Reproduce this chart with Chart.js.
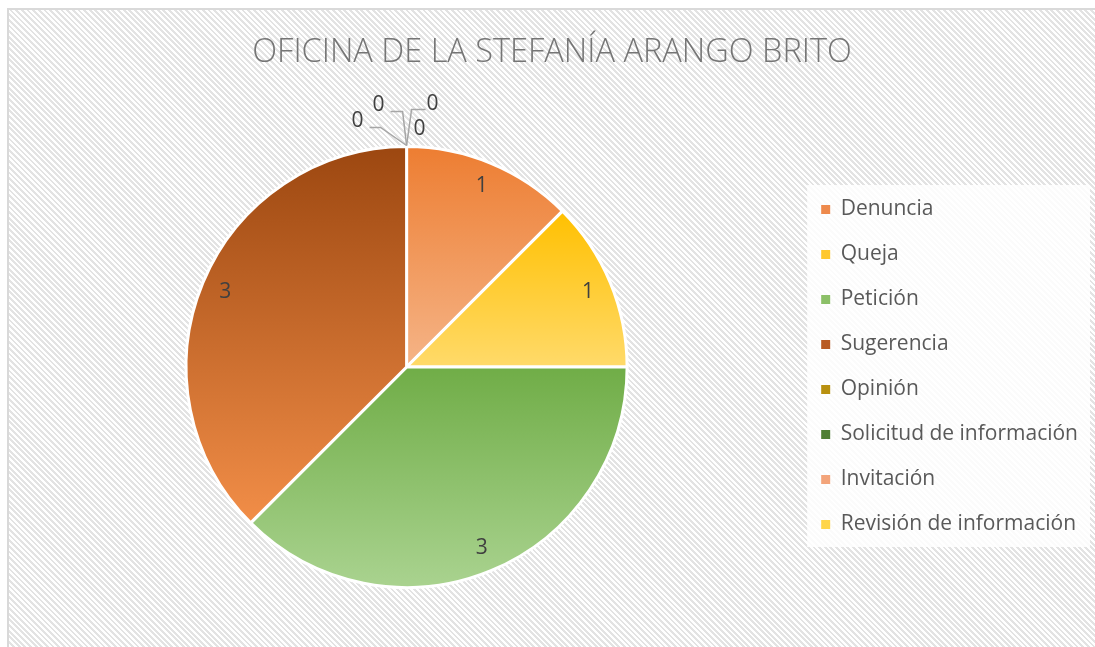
<!DOCTYPE html>
<html>
<head>
<meta charset="utf-8">
<script src="https://cdn.jsdelivr.net/npm/chart.js@4.4.0/dist/chart.umd.min.js"></script>
<style>
  html, body { margin: 0; padding: 0; background: #fff; overflow: hidden; width: 1095px; height: 647px; }
  #box {
    position: absolute; left: 7px; top: 8px; width: 1130px; height: 690px;
    border-left: 2px solid #d9d9d9; border-top: 2px solid #d9d9d9;
    background: repeating-linear-gradient(45deg, #e3e3e3 0px, #e3e3e3 2px, #ffffff 2px, #ffffff 4px);
  }
  canvas { position: absolute; left: 0; top: 0; }
</style>
</head>
<body>
<div id="box"><canvas id="PieChart" width="1094" height="637"></canvas></div>
<script>
const chartTitle = "OFICINA DE LA STEFANÍA ARANGO BRITO";
const categories = ["Denuncia", "Queja", "Petición", "Sugerencia", "Opinión",
  "Solicitud de información", "Invitación", "Revisión de información"];
const values = [1, 1, 3, 3, 0, 0, 0, 0];

// slice gradient, top -> bottom
const topColors = ["#ED7D31", "#FFC000", "#70AD47", "#9C4710", "#BF9000", "#548235", "#F4A06E", "#FFD24D"];
const bottomColors = ["#F5B487", "#FFDA6A", "#AAD390", "#F28E48", "#D9AA1E", "#6A9A48", "#F6BC98", "#FFE08A"];
const legendColors = ["#EE8A4C", "#FFC82E", "#8CC068", "#B85A22", "#B8900F", "#4F7F34", "#F3A47A", "#FFD54A"];

// where the zero labels sit around the top of the pie (offsets from the rim point)
const zeroLabels = {
  4: { dx: -49, dy: -24, line: [[-26, -18], [-37, -18]] },
  5: { dx: -28, dy: -40, line: [[-4, -34], [-16, -34]] },
  6: { dx: 26, dy: -41, line: [[5, -36], [19, -36]] },
  7: { dx: 13, dy: -16, line: null }
};

const total = values.reduce((a, b) => a + b, 0);

function sliceFill(context) {
  const i = context.dataIndex;
  const chart = context.chart;
  const area = chart.chartArea;
  if (!area || values[i] === 0) return legendColors[i];
  const cx = (area.left + area.right) / 2;
  const cy = (area.top + area.bottom) / 2;
  const r = Math.min(area.width, area.height) / 2;
  let before = 0;
  for (let k = 0; k < i; k++) before += values[k];
  const a0 = -Math.PI / 2 + 2 * Math.PI * before / total;
  const a1 = a0 + 2 * Math.PI * values[i] / total;
  const ys = [cy, cy + r * Math.sin(a0), cy + r * Math.sin(a1)];
  [Math.PI / 2, 3 * Math.PI / 2, -Math.PI / 2].forEach(a => {
    if (a > a0 && a < a1) ys.push(cy + r * Math.sin(a));
  });
  const y0 = Math.min(...ys), y1 = Math.max(...ys);
  const g = chart.ctx.createLinearGradient(0, y0, 0, y1);
  g.addColorStop(0, topColors[i]);
  g.addColorStop(1, bottomColors[i]);
  return g;
}

const legendBackground = {
  id: "legendBackground",
  beforeDraw(chart) {
    const lg = chart.legend;
    if (!lg || !lg.legendHitBoxes || !lg.legendHitBoxes.length) return;
    const hb = lg.legendHitBoxes;
    const ctx = chart.ctx;
    ctx.save();
    ctx.fillStyle = "rgba(255,255,255,0.85)";
    const top = hb[0].top - 14;
    const bottom = hb[hb.length - 1].top + hb[hb.length - 1].height + 12;
    ctx.fillRect(hb[0].left - 14, top, lg.right - hb[0].left + 16, bottom - top);
    ctx.restore();
  }
};

const sliceLabels = {
  id: "sliceLabels",
  afterDatasetsDraw(chart) {
    const ctx = chart.ctx;
    const arcs = chart.getDatasetMeta(0).data;
    ctx.save();
    ctx.font = "21px 'Open Sans'";
    ctx.fillStyle = "#404040";
    ctx.textAlign = "center";
    ctx.textBaseline = "middle";
    arcs.forEach((arc, i) => {
      if (values[i] > 0) {
        const mid = (arc.startAngle + arc.endAngle) / 2;
        const d = arc.outerRadius * 0.89;
        ctx.fillText(String(values[i]), arc.x + Math.cos(mid) * d, arc.y + Math.sin(mid) * d);
      } else {
        const ax = arc.x + Math.cos(arc.startAngle) * arc.outerRadius;
        const ay = arc.y + Math.sin(arc.startAngle) * arc.outerRadius - 1;
        const z = zeroLabels[i];
        if (z.line) {
          ctx.strokeStyle = "#a6a6a6";
          ctx.lineWidth = 1.5;
          ctx.beginPath();
          ctx.moveTo(ax, ay);
          z.line.forEach(p => ctx.lineTo(ax + p[0], ay + p[1]));
          ctx.stroke();
        }
        ctx.fillText(String(values[i]), ax + z.dx, ay + z.dy);
      }
    });
    ctx.restore();
  }
};

let PieChart = new Chart(document.getElementById("PieChart").getContext("2d"), {
  type: "pie",
  data: {
    labels: categories,
    datasets: [
      {
        data: values,
        backgroundColor: sliceFill,
        borderColor: "#ffffff",
        borderWidth: 3,
      },
    ],
  },
  options: {
    responsive: false,
    animation: false,
    layout: { padding: { left: 7, right: 15, top: 0, bottom: 58 } },
    plugins: {
      title: {
        display: true,
        text: chartTitle,
        color: "#757575",
        font: { family: "'Open Sans'", size: 32.5, weight: 300 },
        padding: { top: 23, bottom: 73 },
      },
      legend: {
        position: "right",
        fullSize: false,
        labels: {
          boxWidth: 9,
          boxHeight: 9,
          padding: 24,
          color: "#595959",
          font: { family: "'Open Sans'", size: 21 },
          generateLabels: () => categories.map((c, i) => ({
            text: c,
            fillStyle: legendColors[i],
            strokeStyle: legendColors[i],
            lineWidth: 0,
            hidden: false,
            index: i,
            fontColor: "#595959",
          })),
        },
      },
      tooltip: { enabled: false },
    },
  },
  plugins: [legendBackground, sliceLabels],
});
</script>
</body>
</html>
